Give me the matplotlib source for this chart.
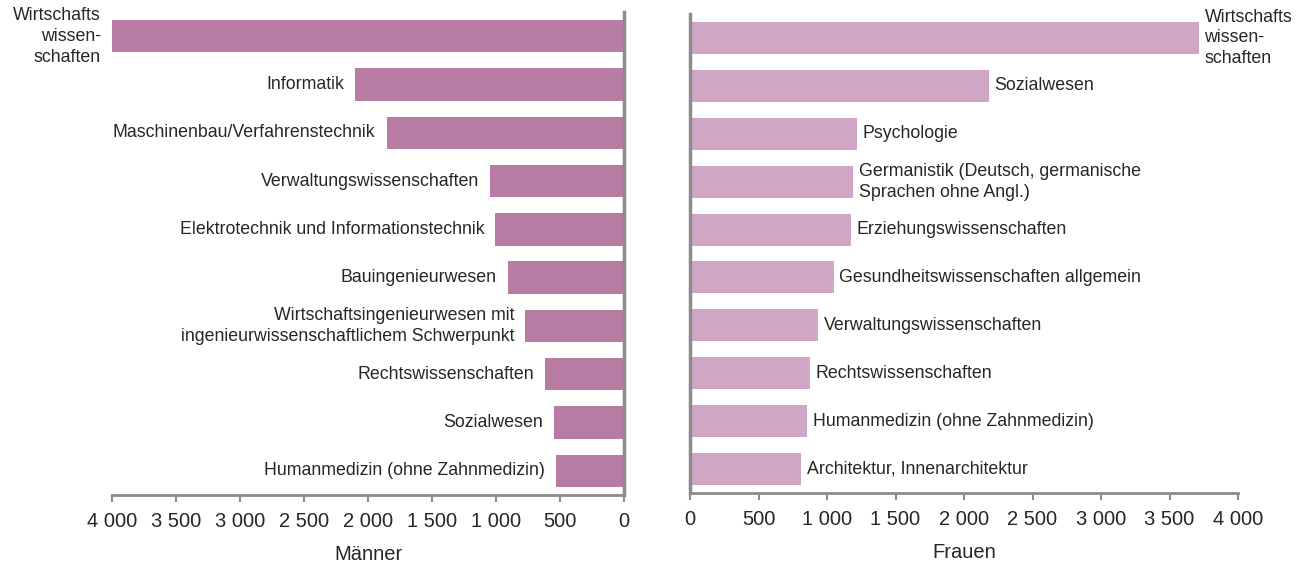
import matplotlib
matplotlib.use("Agg")
import matplotlib.pyplot as plt
from matplotlib.ticker import FuncFormatter

plt.rcParams['font.family'] = ['Liberation Sans', 'DejaVu Sans']

# Data
maenner_labels = [
    "Wirtschafts\nwissen-\nschaften",
    "Informatik",
    "Maschinenbau/Verfahrenstechnik",
    "Verwaltungswissenschaften",
    "Elektrotechnik und Informationstechnik",
    "Bauingenieurwesen",
    "Wirtschaftsingenieurwesen mit\ningenieurwissenschaftlichem Schwerpunkt",
    "Rechtswissenschaften",
    "Sozialwesen",
    "Humanmedizin (ohne Zahnmedizin)",
]
maenner_values = [4000, 2100, 1855, 1045, 1005, 910, 770, 615, 550, 535]

frauen_labels = [
    "Wirtschafts\nwissen-\nschaften",
    "Sozialwesen",
    "Psychologie",
    "Germanistik (Deutsch, germanische\nSprachen ohne Angl.)",
    "Erziehungswissenschaften",
    "Gesundheitswissenschaften allgemein",
    "Verwaltungswissenschaften",
    "Rechtswissenschaften",
    "Humanmedizin (ohne Zahnmedizin)",
    "Architektur, Innenarchitektur",
]
frauen_values = [3715, 2180, 1220, 1190, 1175, 1050, 935, 875, 855, 810]

x_ticks = [0, 500, 1000, 1500, 2000, 2500, 3000, 3500, 4000]

col_m = "#B77BA4"
col_f = "#CFA6C6"
axis_col = "#8C8C8C"
text_col = "#262626"
fs_lab = 12.8
fs_tick = 14.5

W, H = 1314, 564
fig = plt.figure(figsize=(W / 100, H / 100), dpi=100)

def fmt(v, pos):
    v = int(round(v))
    return f"{v:,}".replace(",", " ")

def style(ax):
    for s in ax.spines.values():
        s.set_visible(False)
    ax.spines['bottom'].set_visible(True)
    ax.spines['bottom'].set_color(axis_col)
    ax.spines['bottom'].set_linewidth(2)
    ax.set_yticks([])
    ax.set_xticks(x_ticks)
    ax.xaxis.set_major_formatter(FuncFormatter(fmt))
    ax.tick_params(axis='x', direction='out', length=5, width=1.5, color=axis_col,
                   labelsize=fs_tick, labelcolor=text_col, pad=7)
    ax.set_xlim(0, 4000)
    ax.set_ylim(9.5, -0.5)

# Left axes (Männer), inverted x
axL = fig.add_axes([112 / W, (H - 495) / H, 512 / W, (495 - 12) / H])
ypos = list(range(len(maenner_values)))
axL.barh(ypos, maenner_values, height=0.67, color=col_m, edgecolor="none")
style(axL)
axL.invert_xaxis()
axL.spines['right'].set_visible(True)
axL.spines['right'].set_color(axis_col)
axL.spines['right'].set_linewidth(2.5)
axL.set_xlabel("Männer", fontsize=fs_tick, color=text_col, labelpad=10)
for y, v, lab in zip(ypos, maenner_values, maenner_labels):
    axL.annotate(lab, xy=(v, y), xytext=(-8, 0), textcoords="offset points",
                 ha="right", va="center", fontsize=fs_lab, color=text_col,
                 multialignment="right", linespacing=1.3)

# Right axes (Frauen)
axR = fig.add_axes([690 / W, (H - 493) / H, 548 / W, (493 - 14) / H])
axR.barh(ypos, frauen_values, height=0.67, color=col_f, edgecolor="none")
style(axR)
axR.spines['left'].set_visible(True)
axR.spines['left'].set_color(axis_col)
axR.spines['left'].set_linewidth(2.5)
axR.set_xlabel("Frauen", fontsize=fs_tick, color=text_col, labelpad=10)
for y, v, lab in zip(ypos, frauen_values, frauen_labels):
    axR.annotate(lab, xy=(v, y), xytext=(4, 0), textcoords="offset points",
                 ha="left", va="center", fontsize=fs_lab, color=text_col,
                 multialignment="left", linespacing=1.3)

fig.savefig("out.png", dpi=100)
